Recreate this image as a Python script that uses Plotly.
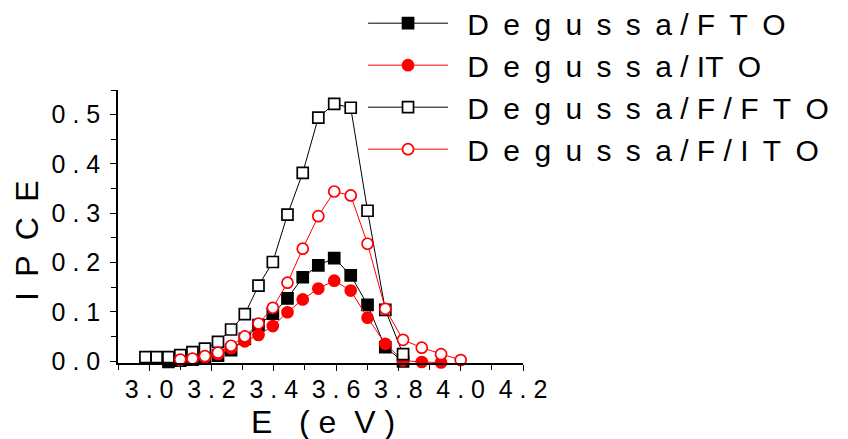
import plotly.graph_objects as go

# ---- data (photon energy in eV, IPCE) ----
E_fto = [3.062, 3.100, 3.139, 3.179, 3.221, 3.263, 3.307, 3.351, 3.397, 3.444,
         3.493, 3.543, 3.594, 3.647, 3.701, 3.758, 3.815]
ipce_fto = [-0.002, 0.001, 0.003, 0.006, 0.011, 0.022, 0.045, 0.073, 0.096, 0.127,
            0.170, 0.194, 0.209, 0.174, 0.114, 0.028, -0.001]

E_ito = [3.100, 3.139, 3.179, 3.221, 3.263, 3.307, 3.351, 3.397, 3.444, 3.493,
         3.543, 3.594, 3.647, 3.701, 3.758, 3.815, 3.875, 3.937]
ipce_ito = [0.002, 0.004, 0.008, 0.014, 0.026, 0.040, 0.053, 0.071, 0.099, 0.125,
            0.147, 0.163, 0.143, 0.088, 0.035, 0.001, -0.002, -0.003]

E_f_fto = [2.988, 3.024, 3.062, 3.100, 3.139, 3.179, 3.221, 3.263, 3.307, 3.351,
           3.397, 3.444, 3.493, 3.543, 3.594, 3.647, 3.701, 3.758, 3.815]
ipce_f_fto = [0.008, 0.008, 0.008, 0.012, 0.018, 0.025, 0.039, 0.064, 0.095, 0.153,
              0.201, 0.297, 0.382, 0.494, 0.522, 0.514, 0.305, 0.104, 0.014]

E_f_ito = [3.100, 3.139, 3.179, 3.221, 3.263, 3.307, 3.351, 3.397, 3.444, 3.493,
           3.543, 3.594, 3.647, 3.701, 3.758, 3.815, 3.875, 3.937, 4.000]
ipce_f_ito = [0.003, 0.005, 0.010, 0.017, 0.031, 0.050, 0.076, 0.108, 0.159, 0.228,
              0.294, 0.344, 0.336, 0.238, 0.106, 0.043, 0.027, 0.014, 0.002]

series_names = ["Degussa/FTO", "Degussa/ITO", "Degussa/F/FTO", "Degussa/F/ITO"]

x_tickvals = [3.0, 3.2, 3.4, 3.6, 3.8, 4.0, 4.2]
x_ticktext = ["3 . 0", "3 . 2", "3 . 4", "3 . 6", "3 . 8", "4 . 0", "4 . 2"]
y_tickvals = [0.0, 0.1, 0.2, 0.3, 0.4, 0.5]
y_ticktext = ["0 . 0", "0 . 1", "0 . 2", "0 . 3", "0 . 4", "0 . 5"]

NB = "\u00a0"
TH = "\u2009"
x_title = "E" + NB * 3 + "(" + NB + "e" + NB * 2 + "V" + NB + ")"
y_title = "I" + NB + TH + "P" + NB + TH + "C" + NB + TH + "E"

FONT = "Arial, Liberation Sans, sans-serif"


def spaced(name, tight_after=()):
    out = NB + TH
    for i, ch in enumerate(name):
        out += ch
        if i < len(name) - 1:
            nxt = name[i + 1]
            if i in tight_after:
                continue
            if ch == "/" or nxt == "/":
                out += NB
            else:
                out += NB + TH
    return out


legend_labels = [
    spaced(series_names[0]),
    spaced(series_names[1], tight_after=(8,)),
    spaced(series_names[2]),
    spaced(series_names[3]),
]

fig = go.Figure()

styles = [
    dict(x=E_fto, y=ipce_fto, color="black", symbol="square", fill="black"),
    dict(x=E_ito, y=ipce_ito, color="#ff0000", symbol="circle", fill="#ff0000"),
    dict(x=E_f_fto, y=ipce_f_fto, color="black", symbol="square", fill="white"),
    dict(x=E_f_ito, y=ipce_f_ito, color="#ff0000", symbol="circle", fill="white"),
]

for label, st in zip(legend_labels, styles):
    fig.add_trace(go.Scatter(
        x=st["x"], y=st["y"], mode="lines+markers", name=label,
        line=dict(color=st["color"], width=1),
        marker=dict(symbol=st["symbol"], size=11, color=st["fill"],
                    line=dict(color=st["color"], width=1.7)),
        cliponaxis=False,
    ))

fig.update_layout(
    width=848, height=439,
    margin=dict(l=118, r=325, t=90, b=76, autoexpand=False),
    paper_bgcolor="white", plot_bgcolor="white",
    font=dict(family=FONT, color="black"),
    showlegend=True,
    legend=dict(x=0.605, y=1.34, xanchor="left", yanchor="top",
                font=dict(size=30, family=FONT, color="black"),
                bgcolor="rgba(0,0,0,0)", borderwidth=0,
                itemwidth=80, tracegroupgap=0),
    xaxis=dict(range=[2.9, 4.2], showgrid=False, zeroline=False,
               showline=True, linecolor="black", linewidth=1.5,
               ticks="outside", ticklen=6, tickwidth=1.2, tickcolor="black",
               tickvals=x_tickvals, ticktext=x_ticktext,
               tickfont=dict(size=25, family=FONT, color="black"),
               ticklabelstandoff=-3,
               minor=dict(ticks="outside", ticklen=5, tickwidth=1.2,
                          tickcolor="black", dtick=0.1, showgrid=False)),
    yaxis=dict(range=[-0.004, 0.55], showgrid=False, zeroline=False,
               showline=True, linecolor="black", linewidth=1.5,
               ticks="outside", ticklen=6, tickwidth=1.2, tickcolor="black",
               tickvals=y_tickvals, ticktext=y_ticktext,
               tickfont=dict(size=25, family=FONT, color="black"),
               ticklabelstandoff=5,
               minor=dict(ticks="outside", ticklen=5, tickwidth=1.2,
                          tickcolor="black", dtick=0.05, showgrid=False)),
    annotations=[
        dict(text=x_title, xref="paper", yref="paper", x=0.505, y=-0.215,
             xanchor="center", yanchor="middle", showarrow=False,
             font=dict(size=32, family=FONT, color="black")),
        dict(text=y_title, xref="paper", yref="paper", x=-0.225, y=0.45,
             xanchor="center", yanchor="middle", showarrow=False, textangle=-90,
             font=dict(size=32, family=FONT, color="black")),
    ],
)

fig.write_html("out.html")
